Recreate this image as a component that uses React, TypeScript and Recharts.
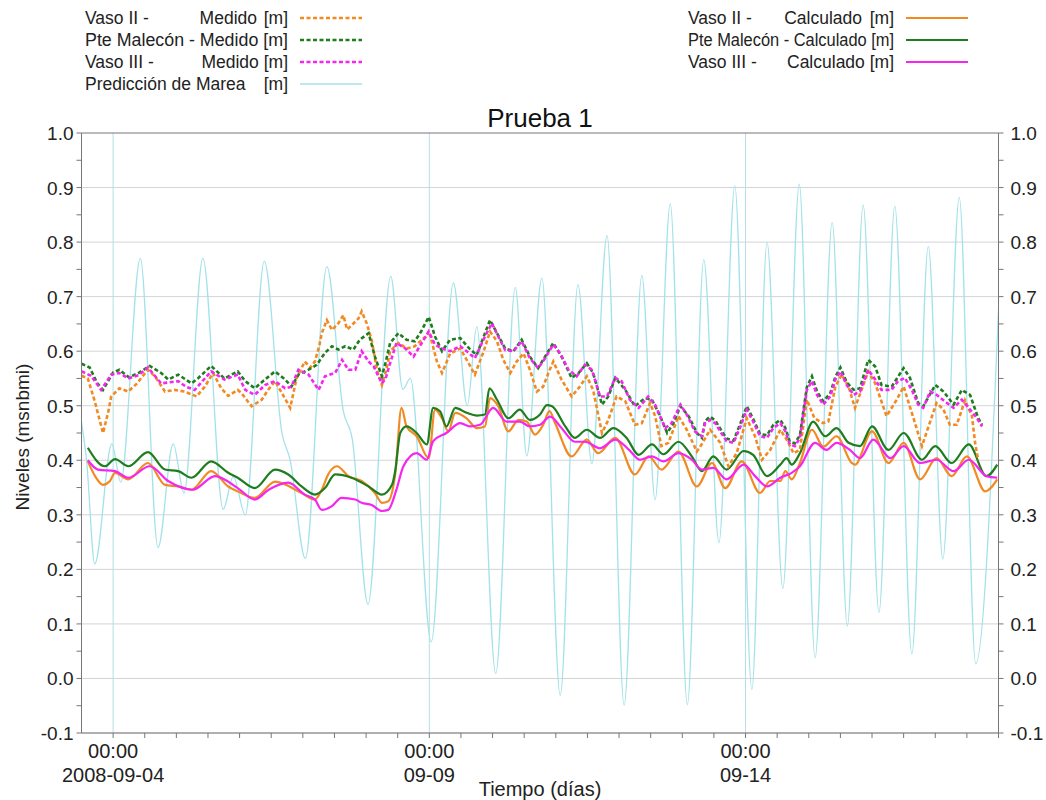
import React from 'react'
import { LineChart, Line, XAxis, YAxis, ReferenceLine } from 'recharts'

type Pt = [number, number]

// x = days after 2008-09-04 00:00, y = level in m
const tide: Pt[] = [
  [-0.5, 0.47], [-0.42, 0.4], [-0.29, 0.21], [-0.02, 0.43], [0.12, 0.36], [0.43, 0.77],
  [0.71, 0.24], [0.95, 0.43], [1.12, 0.34], [1.42, 0.77], [1.74, 0.31], [1.9, 0.37],
  [2.09, 0.3], [2.39, 0.765], [2.67, 0.45], [2.8, 0.4], [3.04, 0.22], [3.38, 0.755],
  [3.64, 0.49], [3.78, 0.44], [4.03, 0.136], [4.39, 0.737], [4.58, 0.53], [4.7, 0.55],
  [5.03, 0.067], [5.38, 0.725], [5.6, 0.5], [5.75, 0.645], [6.05, 0.009], [6.36, 0.717],
  [6.54, 0.408], [6.78, 0.734], [7.07, -0.031], [7.35, 0.722], [7.57, 0.394], [7.81, 0.812],
  [8.08, -0.049], [8.36, 0.739], [8.57, 0.328], [8.81, 0.87], [9.08, -0.048], [9.34, 0.768],
  [9.58, 0.249], [9.83, 0.903], [10.1, -0.02], [10.34, 0.8], [10.59, 0.165], [10.85, 0.906],
  [11.1, 0.038], [11.37, 0.836], [11.61, 0.096], [11.86, 0.868], [12.11, 0.121], [12.36, 0.866],
  [12.63, 0.045], [12.89, 0.792], [13.12, 0.219], [13.38, 0.882], [13.64, 0.027], [14.0, 0.675],
]

const vasoIIMed: Pt[] = [
  [-0.5, 0.555], [-0.4, 0.55], [-0.29, 0.508], [-0.16, 0.45], [-0.08, 0.487], [-0.03, 0.517],
  [0.1, 0.532], [0.24, 0.526], [0.37, 0.54], [0.55, 0.566], [0.66, 0.554], [0.82, 0.526],
  [0.97, 0.529], [1.13, 0.526], [1.32, 0.517], [1.45, 0.535], [1.58, 0.56], [1.71, 0.532],
  [1.82, 0.518], [1.97, 0.529], [2.03, 0.523], [2.19, 0.499], [2.35, 0.511], [2.45, 0.529],
  [2.56, 0.545], [2.67, 0.523], [2.8, 0.496], [2.9, 0.55], [3.03, 0.581], [3.12, 0.57],
  [3.19, 0.581], [3.26, 0.61], [3.3, 0.633], [3.38, 0.657], [3.46, 0.639], [3.56, 0.651],
  [3.64, 0.666], [3.7, 0.64], [3.75, 0.645], [3.88, 0.66], [3.93, 0.673], [4.01, 0.651],
  [4.09, 0.62], [4.17, 0.566], [4.25, 0.538], [4.32, 0.565], [4.38, 0.6], [4.51, 0.615],
  [4.64, 0.605], [4.77, 0.609], [4.91, 0.624], [5.01, 0.63], [5.12, 0.581], [5.2, 0.56],
  [5.33, 0.596], [5.49, 0.605], [5.62, 0.578], [5.72, 0.557], [5.86, 0.6], [5.96, 0.636],
  [6.07, 0.618], [6.17, 0.584], [6.28, 0.56], [6.38, 0.581], [6.49, 0.596], [6.59, 0.566],
  [6.7, 0.526], [6.8, 0.535], [6.9, 0.565], [6.96, 0.581], [7.09, 0.548], [7.25, 0.517],
  [7.38, 0.535], [7.49, 0.554], [7.59, 0.529], [7.73, 0.45], [7.83, 0.474], [7.96, 0.517],
  [8.1, 0.508], [8.25, 0.465], [8.36, 0.468], [8.49, 0.505], [8.57, 0.481], [8.67, 0.426],
  [8.78, 0.432], [8.94, 0.481], [9.07, 0.456], [9.23, 0.416], [9.3, 0.428], [9.44, 0.456],
  [9.6, 0.432], [9.73, 0.389], [9.86, 0.413], [10.02, 0.477], [10.15, 0.444], [10.26, 0.401],
  [10.39, 0.419], [10.55, 0.456], [10.65, 0.438], [10.76, 0.413], [10.86, 0.419], [10.97, 0.511],
  [11.09, 0.477], [11.23, 0.468], [11.31, 0.471], [11.42, 0.535], [11.52, 0.557], [11.63, 0.535],
  [11.73, 0.496], [11.94, 0.563], [12.05, 0.541], [12.23, 0.481], [12.39, 0.511], [12.5, 0.535],
  [12.63, 0.487], [12.79, 0.426], [12.92, 0.471], [13.02, 0.505], [13.13, 0.493], [13.23, 0.465],
  [13.34, 0.465], [13.47, 0.51], [13.58, 0.481], [13.63, 0.432], [13.68, 0.4],
]

const maleconMed: Pt[] = [
  [-0.5, 0.577], [-0.37, 0.57], [-0.25, 0.541], [-0.16, 0.529], [0.0, 0.561], [0.1, 0.566],
  [0.25, 0.552], [0.4, 0.56], [0.58, 0.573], [0.76, 0.56], [0.87, 0.548], [1.03, 0.557],
  [1.24, 0.541], [1.34, 0.55], [1.55, 0.573], [1.76, 0.55], [1.97, 0.563], [2.09, 0.545],
  [2.24, 0.532], [2.4, 0.548], [2.56, 0.563], [2.72, 0.548], [2.82, 0.535], [2.93, 0.557],
  [3.09, 0.566], [3.22, 0.575], [3.35, 0.597], [3.46, 0.609], [3.56, 0.603], [3.67, 0.609],
  [3.8, 0.603], [3.9, 0.621], [4.04, 0.633], [4.14, 0.59], [4.25, 0.554], [4.31, 0.58],
  [4.38, 0.615], [4.51, 0.633], [4.64, 0.621], [4.77, 0.618], [4.87, 0.636], [4.99, 0.663],
  [5.09, 0.627], [5.2, 0.6], [5.33, 0.621], [5.49, 0.624], [5.63, 0.605], [5.75, 0.593],
  [5.88, 0.633], [5.96, 0.657], [6.07, 0.633], [6.2, 0.605], [6.33, 0.6], [6.46, 0.621],
  [6.59, 0.59], [6.72, 0.569], [6.83, 0.59], [6.96, 0.615], [7.09, 0.59], [7.25, 0.551],
  [7.36, 0.56], [7.49, 0.578], [7.59, 0.56], [7.73, 0.502], [7.83, 0.517], [7.94, 0.551],
  [8.1, 0.529], [8.25, 0.499], [8.41, 0.514], [8.52, 0.511], [8.65, 0.481], [8.76, 0.45],
  [8.86, 0.468], [8.97, 0.499], [9.1, 0.481], [9.23, 0.45], [9.31, 0.441], [9.36, 0.472],
  [9.44, 0.48], [9.52, 0.473], [9.6, 0.458], [9.7, 0.44], [9.81, 0.436], [9.91, 0.465],
  [10.02, 0.499], [10.12, 0.476], [10.23, 0.448], [10.34, 0.446], [10.44, 0.465], [10.55, 0.474],
  [10.63, 0.459], [10.7, 0.434], [10.78, 0.431], [10.86, 0.446], [10.91, 0.487], [10.97, 0.534],
  [11.05, 0.554], [11.13, 0.526], [11.23, 0.508], [11.34, 0.523], [11.42, 0.553], [11.5, 0.57],
  [11.6, 0.543], [11.71, 0.529], [11.81, 0.532], [11.94, 0.584], [12.05, 0.572], [12.15, 0.538],
  [12.31, 0.535], [12.5, 0.569], [12.6, 0.551], [12.73, 0.505], [12.81, 0.499], [13.0, 0.538],
  [13.13, 0.526], [13.29, 0.502], [13.42, 0.529], [13.55, 0.52], [13.68, 0.477], [13.74, 0.465],
]

const vasoIIIMed: Pt[] = [
  [-0.5, 0.563], [-0.35, 0.555], [-0.19, 0.529], [-0.03, 0.557], [0.1, 0.56], [0.24, 0.55],
  [0.4, 0.556], [0.55, 0.57], [0.76, 0.541], [1.03, 0.545], [1.15, 0.535], [1.29, 0.529],
  [1.55, 0.563], [1.76, 0.548], [1.97, 0.557], [2.09, 0.529], [2.24, 0.52], [2.4, 0.538],
  [2.56, 0.545], [2.72, 0.532], [2.82, 0.535], [2.93, 0.566], [3.09, 0.557], [3.25, 0.529],
  [3.35, 0.554], [3.51, 0.56], [3.62, 0.584], [3.72, 0.566], [3.83, 0.566], [3.93, 0.6],
  [4.04, 0.581], [4.12, 0.572], [4.25, 0.541], [4.31, 0.55], [4.38, 0.578], [4.48, 0.615],
  [4.62, 0.605], [4.75, 0.59], [4.88, 0.615], [4.99, 0.636], [5.09, 0.612], [5.2, 0.605],
  [5.33, 0.6], [5.49, 0.609], [5.63, 0.596], [5.72, 0.587], [5.88, 0.627], [5.99, 0.651],
  [6.09, 0.627], [6.2, 0.602], [6.33, 0.6], [6.46, 0.618], [6.59, 0.587], [6.72, 0.569],
  [6.83, 0.587], [6.96, 0.612], [7.07, 0.596], [7.2, 0.566], [7.33, 0.554], [7.46, 0.575],
  [7.57, 0.566], [7.7, 0.517], [7.81, 0.517], [7.94, 0.551], [8.04, 0.545], [8.17, 0.511],
  [8.31, 0.496], [8.46, 0.517], [8.57, 0.502], [8.73, 0.459], [8.83, 0.468], [8.97, 0.502],
  [9.07, 0.484], [9.2, 0.453], [9.31, 0.444], [9.36, 0.468], [9.44, 0.474], [9.52, 0.468],
  [9.6, 0.453], [9.7, 0.435], [9.81, 0.432], [9.91, 0.459], [10.02, 0.493], [10.12, 0.471],
  [10.23, 0.444], [10.34, 0.441], [10.44, 0.459], [10.55, 0.468], [10.63, 0.453], [10.7, 0.429],
  [10.78, 0.426], [10.86, 0.441], [10.91, 0.482], [10.97, 0.529], [11.05, 0.545], [11.13, 0.52],
  [11.23, 0.502], [11.34, 0.517], [11.42, 0.548], [11.5, 0.563], [11.6, 0.538], [11.71, 0.52],
  [11.81, 0.526], [11.94, 0.566], [12.05, 0.548], [12.15, 0.529], [12.31, 0.529], [12.41, 0.545],
  [12.52, 0.551], [12.63, 0.529], [12.73, 0.502], [12.81, 0.496], [12.92, 0.526], [13.02, 0.52],
  [13.15, 0.508], [13.29, 0.496], [13.42, 0.511], [13.55, 0.493], [13.66, 0.477], [13.74, 0.462],
]

const vasoIICalc: Pt[] = [
  [-0.4, 0.398], [-0.28, 0.37], [-0.16, 0.355], [-0.05, 0.362], [0.03, 0.377], [0.24, 0.365],
  [0.55, 0.395], [0.82, 0.355], [1.03, 0.352], [1.24, 0.346], [1.55, 0.38], [1.82, 0.352],
  [1.97, 0.343], [2.24, 0.331], [2.56, 0.361], [2.98, 0.34], [3.19, 0.328], [3.3, 0.346],
  [3.4, 0.374], [3.54, 0.389], [3.72, 0.371], [3.93, 0.362], [4.14, 0.34], [4.25, 0.322],
  [4.35, 0.325], [4.46, 0.374], [4.56, 0.496], [4.64, 0.462], [4.8, 0.444], [4.99, 0.404],
  [5.09, 0.493], [5.2, 0.477], [5.3, 0.453], [5.41, 0.487], [5.59, 0.477], [5.75, 0.459],
  [5.88, 0.462], [5.96, 0.514], [6.09, 0.499], [6.25, 0.453], [6.41, 0.474], [6.54, 0.471],
  [6.67, 0.447], [6.8, 0.465], [6.9, 0.49], [6.99, 0.468], [7.25, 0.407], [7.49, 0.438],
  [7.67, 0.413], [7.94, 0.441], [8.25, 0.374], [8.47, 0.407], [8.67, 0.383], [8.94, 0.416],
  [9.23, 0.352], [9.47, 0.395], [9.68, 0.349], [9.94, 0.398], [10.23, 0.34], [10.39, 0.362],
  [10.55, 0.362], [10.63, 0.38], [10.73, 0.365], [10.86, 0.395], [11.05, 0.456], [11.23, 0.425],
  [11.44, 0.444], [11.68, 0.395], [11.73, 0.392], [12.0, 0.453], [12.26, 0.395], [12.5, 0.432],
  [12.76, 0.365], [13.02, 0.404], [13.26, 0.371], [13.5, 0.407], [13.79, 0.343], [13.98, 0.365],
]

const maleconCalc: Pt[] = [
  [-0.4, 0.423], [-0.13, 0.389], [0.03, 0.402], [0.24, 0.389], [0.55, 0.415], [0.82, 0.383],
  [1.03, 0.38], [1.24, 0.368], [1.55, 0.398], [1.82, 0.377], [1.97, 0.368], [2.24, 0.349],
  [2.56, 0.383], [2.77, 0.374], [2.98, 0.352], [3.19, 0.337], [3.35, 0.349], [3.51, 0.374],
  [3.77, 0.368], [4.04, 0.352], [4.25, 0.337], [4.41, 0.355], [4.46, 0.38], [4.54, 0.45],
  [4.64, 0.462], [4.8, 0.45], [4.96, 0.429], [5.06, 0.496], [5.17, 0.49], [5.27, 0.462],
  [5.41, 0.496], [5.59, 0.487], [5.75, 0.482], [5.88, 0.484], [5.95, 0.532], [6.07, 0.511],
  [6.25, 0.477], [6.43, 0.493], [6.59, 0.474], [6.75, 0.484], [6.86, 0.501], [6.94, 0.499],
  [7.15, 0.462], [7.3, 0.441], [7.49, 0.456], [7.7, 0.441], [7.91, 0.459], [8.12, 0.441],
  [8.31, 0.41], [8.52, 0.429], [8.7, 0.411], [8.94, 0.434], [9.15, 0.407], [9.31, 0.38],
  [9.49, 0.407], [9.7, 0.383], [9.97, 0.417], [10.12, 0.41], [10.34, 0.371], [10.55, 0.392],
  [10.65, 0.404], [10.73, 0.392], [10.86, 0.413], [11.07, 0.471], [11.26, 0.444], [11.44, 0.459],
  [11.63, 0.432], [11.81, 0.426], [12.0, 0.462], [12.26, 0.419], [12.5, 0.45], [12.79, 0.401],
  [13.0, 0.426], [13.26, 0.395], [13.53, 0.429], [13.81, 0.371], [13.98, 0.392],
]

const vasoIIICalc: Pt[] = [
  [-0.4, 0.4], [-0.24, 0.383], [0.03, 0.38], [0.24, 0.368], [0.58, 0.389], [0.87, 0.362],
  [1.26, 0.346], [1.61, 0.371], [1.97, 0.349], [2.24, 0.328], [2.46, 0.346], [2.77, 0.359],
  [3.03, 0.337], [3.19, 0.328], [3.3, 0.309], [3.46, 0.316], [3.61, 0.331], [3.83, 0.328],
  [3.93, 0.322], [4.09, 0.318], [4.25, 0.307], [4.35, 0.309], [4.48, 0.346], [4.59, 0.389],
  [4.8, 0.413], [4.96, 0.401], [5.06, 0.435], [5.27, 0.45], [5.49, 0.468], [5.64, 0.462],
  [5.8, 0.465], [6.01, 0.496], [6.22, 0.471], [6.43, 0.471], [6.59, 0.462], [6.75, 0.465],
  [6.91, 0.48], [7.09, 0.459], [7.3, 0.434], [7.46, 0.434], [7.7, 0.422], [7.94, 0.438],
  [8.15, 0.42], [8.33, 0.401], [8.52, 0.407], [8.7, 0.398], [8.94, 0.413], [9.15, 0.401],
  [9.31, 0.383], [9.49, 0.386], [9.7, 0.365], [9.97, 0.392], [10.15, 0.371], [10.34, 0.352],
  [10.55, 0.368], [10.73, 0.377], [10.86, 0.389], [11.1, 0.432], [11.28, 0.419], [11.44, 0.432],
  [11.65, 0.419], [11.81, 0.404], [12.02, 0.438], [12.29, 0.404], [12.5, 0.426], [12.76, 0.395],
  [13.02, 0.401], [13.29, 0.38], [13.53, 0.401], [13.81, 0.371], [13.98, 0.368],
]

const yLabels = [-0.1, 0, 0.1, 0.2, 0.3, 0.4, 0.5, 0.6, 0.7, 0.8, 0.9, 1.0]
const yTicks = [...yLabels, ...yLabels.slice(0, -1).map((v) => v + 0.05)].sort((a, b) => a - b)
const xMajor = [
  { day: 0, time: '00:00', date: '2008-09-04' },
  { day: 5, time: '00:00', date: '09-09' },
  { day: 10, time: '00:00', date: '09-14' },
]
const xTicks = Array.from({ length: 29 }, (_, i) => i * 0.5)

const FONT = "'Liberation Sans', Arial, Helvetica, sans-serif"
const ORANGE = '#f28a24'
const GREEN = '#1e7d1e'
const MAGENTA = '#f526f0'
const CYAN = '#a3e2ea'
const AXIS = '#777'

const rows = (pts: Pt[]) => pts.map(([d, v]) => ({ d, v }))

const isLabel = (v: number) => yLabels.some((l) => Math.abs(l - v) < 1e-6)

function YTick(props: any) {
  const { x, y, payload, textAnchor } = props
  if (!isLabel(payload.value)) return <g />
  return (
    <text x={x} y={y + 7} textAnchor={textAnchor} fontSize={19} fill="#222" fontFamily={FONT}>
      {payload.value.toFixed(1)}
    </text>
  )
}

function XTick(props: any) {
  const { x, payload } = props
  const lab = xMajor.find((m) => Math.abs(m.day - payload.value) < 1e-6)
  if (!lab) return <g />
  return (
    <g fontFamily={FONT} fontSize={20} fill="#222">
      <text x={x} y={758} textAnchor="middle">{lab.time}</text>
      <text x={x} y={782} textAnchor="middle">{lab.date}</text>
    </g>
  )
}

function Legend() {
  const t = { fontFamily: FONT, fontSize: 17.5, fill: '#222' }
  const rowsY = [24, 46, 68, 90]
  return (
    <svg width={1046} height={800} style={{ position: 'absolute', left: 0, top: 0, pointerEvents: 'none' }}>
      <g {...t}>
        <text x={85} y={rowsY[0]}>Vaso II -</text>
        <text x={257} y={rowsY[0]} textAnchor="end">Medido</text>
        <text x={288} y={rowsY[0]} textAnchor="end">[m]</text>
        <text x={85} y={rowsY[1]} textLength={203} lengthAdjust="spacingAndGlyphs">Pte Malecón - Medido [m]</text>
        <text x={85} y={rowsY[2]}>Vaso III -</text>
        <text x={288} y={rowsY[2]} textAnchor="end">Medido [m]</text>
        <text x={85} y={rowsY[3]}>Predicción de Marea</text>
        <text x={288} y={rowsY[3]} textAnchor="end">[m]</text>

        <text x={688} y={rowsY[0]}>Vaso II -</text>
        <text x={862} y={rowsY[0]} textAnchor="end">Calculado</text>
        <text x={894} y={rowsY[0]} textAnchor="end">[m]</text>
        <text x={688} y={rowsY[1]} textLength={206} lengthAdjust="spacingAndGlyphs">Pte Malecón - Calculado [m]</text>
        <text x={688} y={rowsY[2]}>Vaso III -</text>
        <text x={894} y={rowsY[2]} textAnchor="end">Calculado [m]</text>
      </g>
      <line x1={300} x2={362} y1={rowsY[0] - 6} y2={rowsY[0] - 6} stroke={ORANGE} strokeWidth={2.5} strokeDasharray="4 2.5" />
      <line x1={300} x2={362} y1={rowsY[1] - 6} y2={rowsY[1] - 6} stroke={GREEN} strokeWidth={2.5} strokeDasharray="4 2.5" />
      <line x1={300} x2={362} y1={rowsY[2] - 6} y2={rowsY[2] - 6} stroke={MAGENTA} strokeWidth={2.5} strokeDasharray="4 2.5" />
      <line x1={300} x2={362} y1={rowsY[3] - 6} y2={rowsY[3] - 6} stroke={CYAN} strokeWidth={1.3} />
      <line x1={906} x2={968} y1={rowsY[0] - 6} y2={rowsY[0] - 6} stroke={ORANGE} strokeWidth={2.2} />
      <line x1={906} x2={968} y1={rowsY[1] - 6} y2={rowsY[1] - 6} stroke={GREEN} strokeWidth={2.2} />
      <line x1={906} x2={968} y1={rowsY[2] - 6} y2={rowsY[2] - 6} stroke={MAGENTA} strokeWidth={2.2} />

      <text x={540} y={127} textAnchor="middle" fontFamily={FONT} fontSize={26} fill="#111">Prueba 1</text>
      <text x={540} y={796} textAnchor="middle" fontFamily={FONT} fontSize={20} fill="#222">Tiempo (días)</text>
      <text x={29} y={437} textAnchor="middle" fontFamily={FONT} fontSize={19} fill="#222" transform="rotate(-90 29 437)">
        Niveles (msnbmi)
      </text>
    </svg>
  )
}

export default function App() {
  const dashed = { strokeWidth: 2.6, strokeDasharray: '4 2.5' }
  return (
    <div style={{ position: 'absolute', left: 0, top: 0, width: 1046, height: 800, background: '#fff' }}>
      <LineChart width={1046} height={800} margin={{ top: 133, right: 0, bottom: 7, left: 0 }}>
        <XAxis
          dataKey="d"
          type="number"
          domain={[-0.5, 14]}
          allowDataOverflow
          ticks={xTicks}
          interval={0}
          tick={XTick}
          tickSize={5}
          height={60}
          stroke={AXIS}
        />
        <YAxis
          type="number"
          domain={[-0.1, 1.0]}
          allowDataOverflow
          ticks={yTicks}
          interval={0}
          tick={YTick}
          tickSize={5}
          tickMargin={3}
          width={81.5}
          stroke={AXIS}
        />
        <YAxis
          yAxisId="r"
          orientation="right"
          type="number"
          domain={[-0.1, 1.0]}
          allowDataOverflow
          ticks={yTicks}
          interval={0}
          tick={YTick}
          tickSize={5}
          tickMargin={7}
          width={47.5}
          stroke={AXIS}
        />
        {yLabels.slice(0, -1).map((v) => (
          <ReferenceLine key={'h' + v} y={v} stroke="#d4d4d4" strokeWidth={1} />
        ))}
        {xMajor.map((m) => (
          <ReferenceLine key={'v' + m.day} x={m.day} stroke="#b5dfe6" strokeWidth={1} />
        ))}
        <ReferenceLine y={1.0} stroke={AXIS} strokeWidth={1} />

        <Line data={rows(tide)} dataKey="v" type="monotone" stroke={CYAN} strokeWidth={1.3} dot={false} isAnimationActive={false} />
        <Line data={rows(vasoIICalc)} dataKey="v" type="monotone" stroke={ORANGE} strokeWidth={2.2} dot={false} isAnimationActive={false} />
        <Line data={rows(maleconCalc)} dataKey="v" type="monotone" stroke={GREEN} strokeWidth={2.2} dot={false} isAnimationActive={false} />
        <Line data={rows(vasoIIICalc)} dataKey="v" type="monotone" stroke={MAGENTA} strokeWidth={2.2} dot={false} isAnimationActive={false} />
        <Line data={rows(vasoIIMed)} dataKey="v" type="linear" stroke={ORANGE} {...dashed} dot={false} isAnimationActive={false} />
        <Line data={rows(maleconMed)} dataKey="v" type="linear" stroke={GREEN} {...dashed} dot={false} isAnimationActive={false} />
        <Line data={rows(vasoIIIMed)} dataKey="v" type="linear" stroke={MAGENTA} {...dashed} dot={false} isAnimationActive={false} />
      </LineChart>
      <Legend />
    </div>
  )
}
